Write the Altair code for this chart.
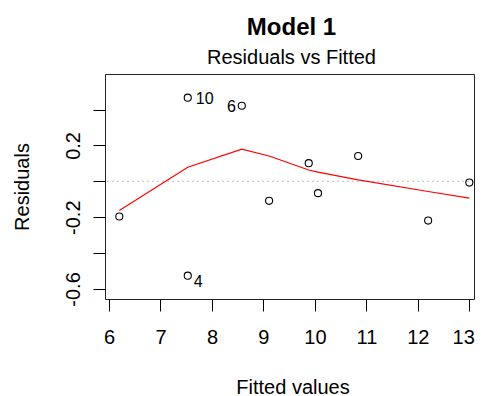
import altair as alt
import pandas as pd

fitted = [6.20, 7.53, 7.53, 8.58, 9.11, 9.88, 10.06, 10.84, 12.20, 13.00]
residuals = [-0.196, 0.466, -0.526, 0.421, -0.109, 0.101, -0.066, 0.141, -0.219, -0.007]
point_ids = ["", "10", "4", "6", "", "", "", "", "", ""]

smooth_x = [6.20, 7.53, 8.58, 9.11, 9.88, 10.06, 10.84, 12.20, 13.00]
smooth_y = [-0.163, 0.078, 0.179, 0.141, 0.063, 0.051, 0.008, -0.057, -0.094]

x_ticks = [6, 7, 8, 9, 10, 11, 12, 13]
y_ticks = [-0.6, -0.4, -0.2, 0.0, 0.2, 0.4]

pts = pd.DataFrame({"fitted": fitted, "resid": residuals, "id": point_ids})
smooth = pd.DataFrame({"fitted": smooth_x, "resid": smooth_y})
zero = pd.DataFrame({"resid": [0.0]})

FONT = "Liberation Sans"
W, H = 369, 225

xscale = alt.Scale(domain=[5.922, 13.091], nice=False, zero=False)
yscale = alt.Scale(domain=[-0.656, 0.598], nice=False, zero=False)

xaxis = alt.Axis(
    values=x_ticks, title="Fitted values", grid=False, domain=False,
    tickColor="black", tickSize=12, tickWidth=1,
    labelFont=FONT, labelFontSize=20, labelColor="black",
    labelBaseline="top", labelPadding=16, labelFlush=False,
    labelAlign={"condition": {"test": "datum.value == 13", "value": "right"}, "value": "center"},
    labelOffset={"condition": {"test": "datum.value == 13", "value": 5}, "value": 0},
    titleFont=FONT, titleFontSize=20, titleFontWeight="normal", titleColor="black",
    titleBaseline="alphabetic", titleX=187.5, titleY=94,
)
yaxis = alt.Axis(
    values=y_ticks, title="Residuals", grid=False, domain=False,
    tickColor="black", tickSize=12, tickWidth=1,
    labelFont=FONT, labelFontSize=20, labelColor="black",
    labelAngle=270, labelAlign="center", labelBaseline="alphabetic", labelPadding=14,
    labelFlush=False,
    labelExpr="datum.value < -0.5 ? '-0.6' : (datum.value > -0.3 && datum.value < -0.1) ? '-0.2' : (datum.value > 0.1 && datum.value < 0.3) ? '0.2' : ''",
    titleFont=FONT, titleFontSize=20, titleFontWeight="normal", titleColor="black",
    titleAngle=270, titleBaseline="alphabetic", titleX=-76.7, titleY=H / 2,
)

zero_line = alt.Chart(zero).mark_rule(color="#bebebe", strokeDash=[2, 3], strokeWidth=1).encode(
    y=alt.Y("resid:Q", scale=yscale, axis=yaxis)
)

line = alt.Chart(smooth).mark_line(color="red", strokeWidth=1.2).encode(
    x=alt.X("fitted:Q", scale=xscale, axis=xaxis),
    y=alt.Y("resid:Q", scale=yscale, axis=yaxis),
)

points = alt.Chart(pts).mark_point(shape="circle", filled=False, color="black", size=50, strokeWidth=1.1, opacity=1).encode(
    x=alt.X("fitted:Q", scale=xscale, axis=xaxis),
    y=alt.Y("resid:Q", scale=yscale, axis=yaxis),
)

def label_layer(ids, **kw):
    return alt.Chart(pts).transform_filter(
        alt.FieldOneOfPredicate(field="id", oneOf=ids)
    ).mark_text(font=FONT, fontSize=16, color="black", baseline="middle", **kw).encode(
        x=alt.X("fitted:Q", scale=xscale, axis=xaxis),
        y=alt.Y("resid:Q", scale=yscale, axis=yaxis),
        text="id:N",
    )

lab_right = label_layer(["10"], align="left", dx=8, dy=1)
lab_right_low = label_layer(["4"], align="left", dx=6, dy=6)
lab_left = label_layer(["6"], align="right", dx=-6, dy=1)

chart = alt.layer(zero_line, line, points, lab_right, lab_right_low, lab_left).properties(
    width=W, height=H,
    autosize=alt.AutoSizeParams(type="none"),
    padding={"left": 97, "top": 66, "right": 1, "bottom": 97},
    title=alt.TitleParams(
        text="Model 1", subtitle="Residuals vs Fitted",
        font=FONT, fontSize=24, fontWeight="bold", color="black",
        subtitleFont=FONT, subtitleFontSize=20, subtitleColor="black",
        subtitlePadding=8, anchor="middle", offset=6, dx=2,
    ),
).configure(
    background="white",
    view=alt.ViewConfig(stroke="#222222", strokeWidth=1),
)

chart.save("out.html", embed_options={"renderer": "svg", "actions": False})
